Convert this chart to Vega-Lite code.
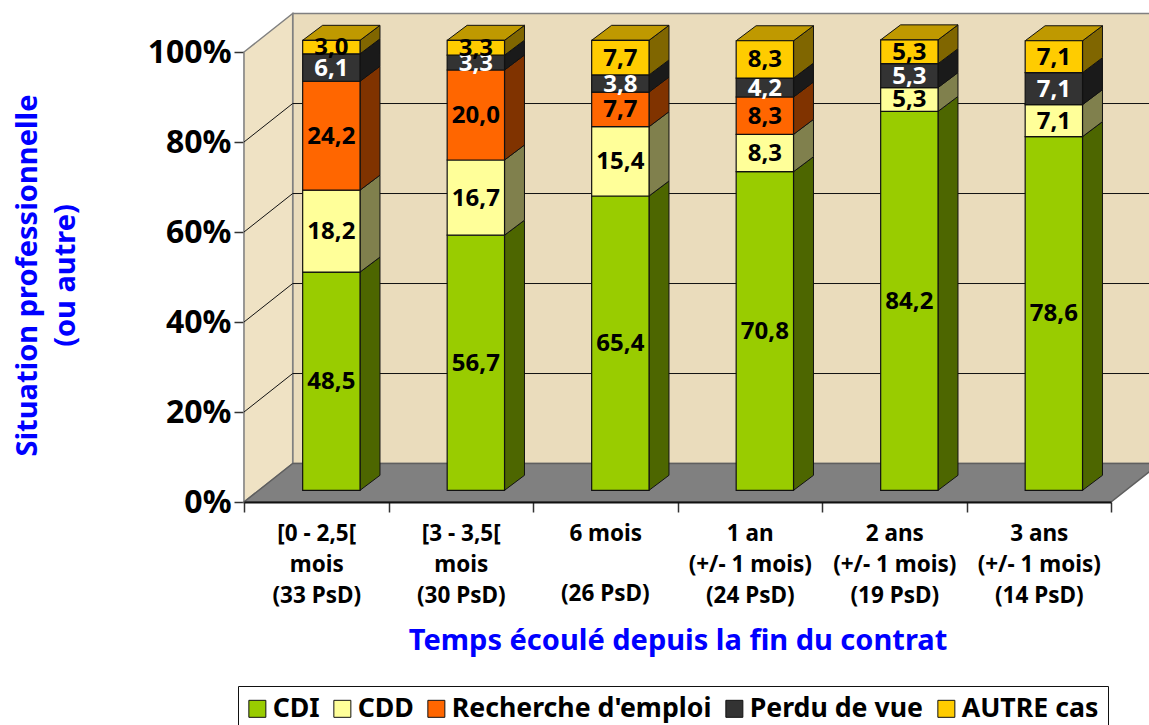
{
"$schema":"https://vega.github.io/schema/vega-lite/v6.json",
"autosize":"none","width":867,"height":450,
"padding":{"left":244,"top":52,"right":38,"bottom":223},
"background":"white",
"config":{"view":{"stroke":null},"text":{"font":"Noto Sans"},"axis":{"labelFont":"Noto Sans","titleFont":"Noto Sans"},"legend":{"labelFont":"Noto Sans"}},
"data":{"values":[
{"duree":"[0 - 2,5[|mois|(33 PsD)","situation":"CDI","valeur":48.5},
{"duree":"[0 - 2,5[|mois|(33 PsD)","situation":"CDD","valeur":18.2},
{"duree":"[0 - 2,5[|mois|(33 PsD)","situation":"Recherche d'emploi","valeur":24.2},
{"duree":"[0 - 2,5[|mois|(33 PsD)","situation":"Perdu de vue","valeur":6.1},
{"duree":"[0 - 2,5[|mois|(33 PsD)","situation":"AUTRE cas","valeur":3.0},
{"duree":"[3 - 3,5[|mois|(30 PsD)","situation":"CDI","valeur":56.7},
{"duree":"[3 - 3,5[|mois|(30 PsD)","situation":"CDD","valeur":16.7},
{"duree":"[3 - 3,5[|mois|(30 PsD)","situation":"Recherche d'emploi","valeur":20.0},
{"duree":"[3 - 3,5[|mois|(30 PsD)","situation":"Perdu de vue","valeur":3.3},
{"duree":"[3 - 3,5[|mois|(30 PsD)","situation":"AUTRE cas","valeur":3.3},
{"duree":"6 mois","situation":"CDI","valeur":65.4},
{"duree":"6 mois","situation":"CDD","valeur":15.4},
{"duree":"6 mois","situation":"Recherche d'emploi","valeur":7.7},
{"duree":"6 mois","situation":"Perdu de vue","valeur":3.8},
{"duree":"6 mois","situation":"AUTRE cas","valeur":7.7},
{"duree":"1 an|(+/- 1 mois)|(24 PsD)","situation":"CDI","valeur":70.8},
{"duree":"1 an|(+/- 1 mois)|(24 PsD)","situation":"CDD","valeur":8.3},
{"duree":"1 an|(+/- 1 mois)|(24 PsD)","situation":"Recherche d'emploi","valeur":8.3},
{"duree":"1 an|(+/- 1 mois)|(24 PsD)","situation":"Perdu de vue","valeur":4.2},
{"duree":"1 an|(+/- 1 mois)|(24 PsD)","situation":"AUTRE cas","valeur":8.3},
{"duree":"2 ans|(+/- 1 mois)|(19 PsD)","situation":"CDI","valeur":84.2},
{"duree":"2 ans|(+/- 1 mois)|(19 PsD)","situation":"CDD","valeur":5.3},
{"duree":"2 ans|(+/- 1 mois)|(19 PsD)","situation":"Perdu de vue","valeur":5.3},
{"duree":"2 ans|(+/- 1 mois)|(19 PsD)","situation":"AUTRE cas","valeur":5.3},
{"duree":"3 ans|(+/- 1 mois)|(14 PsD)","situation":"CDI","valeur":78.6},
{"duree":"3 ans|(+/- 1 mois)|(14 PsD)","situation":"CDD","valeur":7.1},
{"duree":"3 ans|(+/- 1 mois)|(14 PsD)","situation":"Perdu de vue","valeur":7.1},
{"duree":"3 ans|(+/- 1 mois)|(14 PsD)","situation":"AUTRE cas","valeur":7.1}
]},
"transform":[
{"calculate":"indexof(['CDI','CDD','Recherche d\\'emploi','Perdu de vue','AUTRE cas'],datum.situation)","as":"ordre"},
{"calculate":"indexof(['[0','[3','6 ','1 ','2 ','3 '],substring(datum.duree,0,2))","as":"rang"},
{"stack":"valeur","groupby":["duree"],"sort":[{"field":"ordre","order":"ascending"}],"as":["bas","haut"]},
{"calculate":"datum.rang+0.406","as":"gauche"},
{"calculate":"datum.gauche+0.397","as":"droite"},
{"calculate":"datum.bas+2.6","as":"yBas"},
{"calculate":"datum.haut+2.6","as":"yHaut"},
{"calculate":"(datum.yBas+datum.yHaut)/2","as":"yMilieu"},
{"calculate":"(datum.gauche+datum.droite)/2","as":"xMilieu"},
{"calculate":"replace(format(datum.valeur,'.1f'),'.',',')","as":"etiquette"},
{"calculate":"0","as":"c0"},
{"calculate":"1","as":"c1"}
],
"resolve":{"scale":{"x":"independent","color":"independent"},"axis":{"x":"independent"}},
"layer":[
{"data":{"values":[{"partie":"fond"}]},"transform":[],
 "mark":{"type":"rect","fill":"#EADCBC","stroke":"#808080","strokeWidth":1.5,"clip":false},
 "encoding":{
  "x":{"datum":0.337,"type":"quantitative","scale":{"domain":[0,6],"nice":false,"zero":false},"axis":null},
  "x2":{"datum":6.337},
  "y":{"datum":8.55,"type":"quantitative","scale":{"domain":[0,100],"nice":false,"zero":false},
   "axis":{"values":[0,20,40,60,80,100],"labelExpr":"datum.value+'%'","labelFontSize":32,"labelFontWeight":"bold","labelColor":"black","labelPadding":3,"tickSize":10,"tickColor":"#333333","tickWidth":1.5,"domainColor":"#808080","domainWidth":1.5,"grid":false,
   "title":["Situation professionnelle","(ou autre)"],"titleColor":"#0000FF","titleFontSize":29,"titleFontWeight":"bold","titleLineHeight":38,"titleX":-202,"titleY":223,"titleAnchor":"middle"}},
  "y2":{"datum":108.55}
 }},
{"data":{"values":[{"coin":0},{"coin":1}]},"transform":[
  {"calculate":"datum.coin*0.337","as":"px"},{"calculate":"datum.coin*8.55","as":"pb"},{"calculate":"100+datum.coin*8.55","as":"ph"}],
 "mark":{"type":"area","fill":"#EFE2C4","stroke":"#808080","strokeWidth":1.5,"clip":false,"orient":"vertical"},
 "encoding":{
  "x":{"field":"px","type":"quantitative","scale":{"domain":[0,6],"nice":false,"zero":false},"axis":null},
  "y":{"field":"pb","type":"quantitative","stack":null},"y2":{"field":"ph"}
 }},
{"data":{"values":[{"coin":0},{"coin":1}]},"transform":[
  {"calculate":"datum.coin*0.337","as":"pg"},{"calculate":"6+datum.coin*0.337","as":"pd"},{"calculate":"datum.coin*8.55","as":"py"}],
 "mark":{"type":"area","fill":"#808080","stroke":"#5F5F5F","strokeWidth":1.5,"clip":false,"orient":"horizontal"},
 "encoding":{
  "x":{"field":"pg","type":"quantitative","stack":null,"scale":{"domain":[0,6],"nice":false,"zero":false},"axis":null},
  "x2":{"field":"pd"},
  "y":{"field":"py","type":"quantitative"}
 }},
{"data":{"values":[{"pct":20},{"pct":40},{"pct":60},{"pct":80}]},"transform":[
  {"calculate":"[0,1,2]","as":"coin"},{"flatten":["coin"]},
  {"calculate":"datum.coin==0?0:(datum.coin==1?0.337:6.337)","as":"gx"},
  {"calculate":"datum.pct+(datum.coin==0?0:8.55)","as":"gy"}],
 "mark":{"type":"line","stroke":"#111111","strokeWidth":1,"clip":false},
 "encoding":{
  "x":{"field":"gx","type":"quantitative","scale":{"domain":[0,6],"nice":false,"zero":false},"axis":null},
  "y":{"field":"gy","type":"quantitative"},
  "detail":{"field":"pct"},
  "order":{"field":"coin"}
 }},
{"transform":[
  {"fold":["c0","c1"],"as":["cle","coin"]},
  {"calculate":"datum.droite+0.138*datum.coin","as":"sx"},
  {"calculate":"datum.yBas+3.33*datum.coin","as":"sb"},
  {"calculate":"datum.yHaut+3.33*datum.coin","as":"sh"}],
 "mark":{"type":"area","stroke":"#111111","strokeWidth":1,"clip":false,"orient":"vertical","opacity":1},
 "encoding":{
  "x":{"field":"sx","type":"quantitative","scale":{"domain":[0,6],"nice":false,"zero":false},"axis":null},
  "y":{"field":"sb","type":"quantitative","stack":null},"y2":{"field":"sh"},
  "detail":{"field":"rang"},
  "color":{"field":"situation","type":"nominal","legend":null,"scale":{"domain":["CDI","CDD","Recherche d'emploi","Perdu de vue","AUTRE cas"],"range":["#4D6600","#80804D","#803300","#1A1A1A","#806600"]}}
 }},
{"transform":[{"filter":"datum.haut>99.8"},
  {"fold":["c0","c1"],"as":["cle","coin"]},
  {"calculate":"datum.gauche+0.138*datum.coin","as":"tg"},
  {"calculate":"datum.droite+0.138*datum.coin","as":"td"},
  {"calculate":"datum.yHaut+3.33*datum.coin","as":"ty"}],
 "mark":{"type":"area","fill":"#BF9900","stroke":"#111111","strokeWidth":1,"clip":false,"orient":"horizontal"},
 "encoding":{
  "x":{"field":"tg","type":"quantitative","stack":null,"scale":{"domain":[0,6],"nice":false,"zero":false},"axis":null},
  "x2":{"field":"td"},
  "y":{"field":"ty","type":"quantitative"},
  "detail":{"field":"rang"}
 }},
{"mark":{"type":"rect","stroke":"#111111","strokeWidth":1.2,"clip":false},
 "encoding":{
  "x":{"field":"gauche","type":"quantitative","scale":{"domain":[0,6],"nice":false,"zero":false},"axis":null},
  "x2":{"field":"droite"},
  "y":{"field":"yBas","type":"quantitative"},"y2":{"field":"yHaut"},
  "color":{"field":"situation","type":"nominal","title":null,
   "scale":{"domain":["CDI","CDD","Recherche d'emploi","Perdu de vue","AUTRE cas"],"range":["#99CC00","#FFFF99","#FF6600","#333333","#FFCC00"]},
   "legend":{"orient":"none","legendX":-6,"legendY":634,"direction":"horizontal","columns":5,"symbolType":"square","symbolSize":289,"symbolStrokeColor":"#111111","symbolStrokeWidth":1,"labelFontSize":26.7,"labelFontWeight":"bold","labelColor":"black","labelLimit":400,"fillColor":"white","strokeColor":"#111111","padding":9,"columnPadding":11,"labelOffset":2,"symbolOffset":-3,"symbolOpacity":1}}
 }},
{"mark":{"type":"text","fontSize":24,"fontWeight":"bold","baseline":"middle","align":"center","clip":false,"dy":1},
 "encoding":{
  "x":{"field":"xMilieu","type":"quantitative","scale":{"domain":[0,6],"nice":false,"zero":false},"axis":null},
  "y":{"field":"yMilieu","type":"quantitative"},
  "text":{"field":"etiquette"},
  "color":{"condition":{"test":"datum.situation==='Perdu de vue'","value":"white"},"value":"black"}
 }},
{"data":{"values":[{"rang":2.5,"note":"(26 PsD)"}]},"transform":[],
 "mark":{"type":"text","fontSize":22.5,"fontWeight":"bold","baseline":"middle","align":"center","clip":false,"dy":92,"color":"black"},
 "encoding":{
  "x":{"field":"rang","type":"quantitative","scale":{"domain":[0,6],"nice":false,"zero":false},"axis":null},
  "y":{"datum":0,"type":"quantitative"},
  "text":{"field":"note"}
 }},
{"transform":[{"aggregate":[{"op":"min","field":"rang","as":"r"}],"groupby":["duree"]}],
 "mark":{"type":"rect","opacity":0},
 "encoding":{
  "x":{"field":"duree","type":"nominal","sort":{"field":"r"},"scale":{"paddingInner":0,"paddingOuter":0},
   "axis":{"labelExpr":"split(datum.label,'|')","labelAngle":0,"labelFontSize":22.5,"labelFontWeight":"bold","labelColor":"black","labelLineHeight":31,"labelPadding":10,"labelBaseline":"top","labelLimit":0,"labelOverlap":false,"tickBand":"extent","tickSize":10,"tickColor":"#333333","tickWidth":1.5,"domainColor":"#111111","domainWidth":2,
   "title":"Temps écoulé depuis la fin du contrat","titleColor":"#0000FF","titleFontSize":29,"titleFontWeight":"bold","titlePadding":20}}
 }}
]
}
